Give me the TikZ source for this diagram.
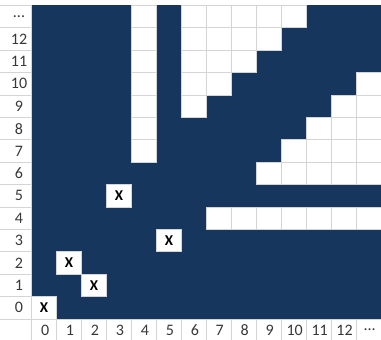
\documentclass[tikz,border=0pt]{standalone}
\usepackage{fontspec}
\setmainfont{Carlito}
\definecolor{navy}{RGB}{23,54,93}
\definecolor{gridg}{RGB}{212,212,212}
\begin{document}
\begin{tikzpicture}[x=1pt,y=-1pt,
  wcell/.style={fill=white,draw=gridg,line width=0.8pt},
  gline/.style={draw=gridg,line width=0.8pt},
  lab/.style={font=\fontsize{16}{16}\selectfont,text=black!78,inner sep=0pt},
  xmark/.style={font=\bfseries\fontsize{15}{15}\selectfont,inner sep=0pt}]
\def\cw{24.96}\def\rh{22.4}\def\xo{31.6}\def\yb{319}
\useasboundingbox (0,0) rectangle (381,340);
\fill[white] (0,0) rectangle (381,340);
% dark field
\fill[navy] (\xo,{\yb-14*\rh}) rectangle (381.04,\yb);
\newcommand\whitecell[2]{\draw[wcell] ({\xo+\cw*#1},{\yb-\rh*(#2+1)}) rectangle ++(\cw,\rh);}
% column 4
\foreach \r in {7,...,13} {\whitecell{4}{\r}}
% row 4
\foreach \c in {7,...,13} {\whitecell{\c}{4}}
% upper triangle
\foreach \r in {9,...,13} {
  \pgfmathtruncatemacro\cmax{\r-3}
  \foreach \c in {6,...,\cmax} {\whitecell{\c}{\r}}
}
% lower triangle
\foreach \r in {6,...,10} {
  \pgfmathtruncatemacro\cmin{\r+3}
  \foreach \c in {\cmin,...,13} {\whitecell{\c}{\r}}
}
% X cells
\foreach \c/\r in {0/0,1/2,2/1,3/5,5/3} {
  \whitecell{\c}{\r}
  \node[xmark] (x\c\r) at ({\xo+\cw*(\c+0.5)},{\yb-\rh*(\r+0.5)}) {X};
}
% row label column
\foreach \r in {0,...,14} {\draw[gline] (0,{\yb-\rh*\r}) -- (\xo,{\yb-\rh*\r});}
\draw[gline] (\xo,{\yb-14*\rh}) -- (\xo,340);
\foreach \r/\t in {0/0,1/1,2/2,3/3,4/4,5/5,6/6,7/7,8/8,9/9,10/10,11/11,12/12,13/{...}} {
  \node[lab] (r\r) at (19,{\yb-\rh*(\r+0.5)}) {\t};
}
% column label row
\draw[gline] (0,\yb) -- (381,\yb);
\foreach \c in {1,...,13} {\draw[gline] ({\xo+\cw*\c},\yb) -- ({\xo+\cw*\c},340);}
\foreach \c/\t in {0/0,1/1,2/2,3/3,4/4,5/5,6/6,7/7,8/8,9/9,10/10,11/11,12/12,13/{...}} {
  \node[lab] (c\c) at ({\xo+\cw*(\c+0.5)+1},330) {\t};
}
\end{tikzpicture}
\end{document}
